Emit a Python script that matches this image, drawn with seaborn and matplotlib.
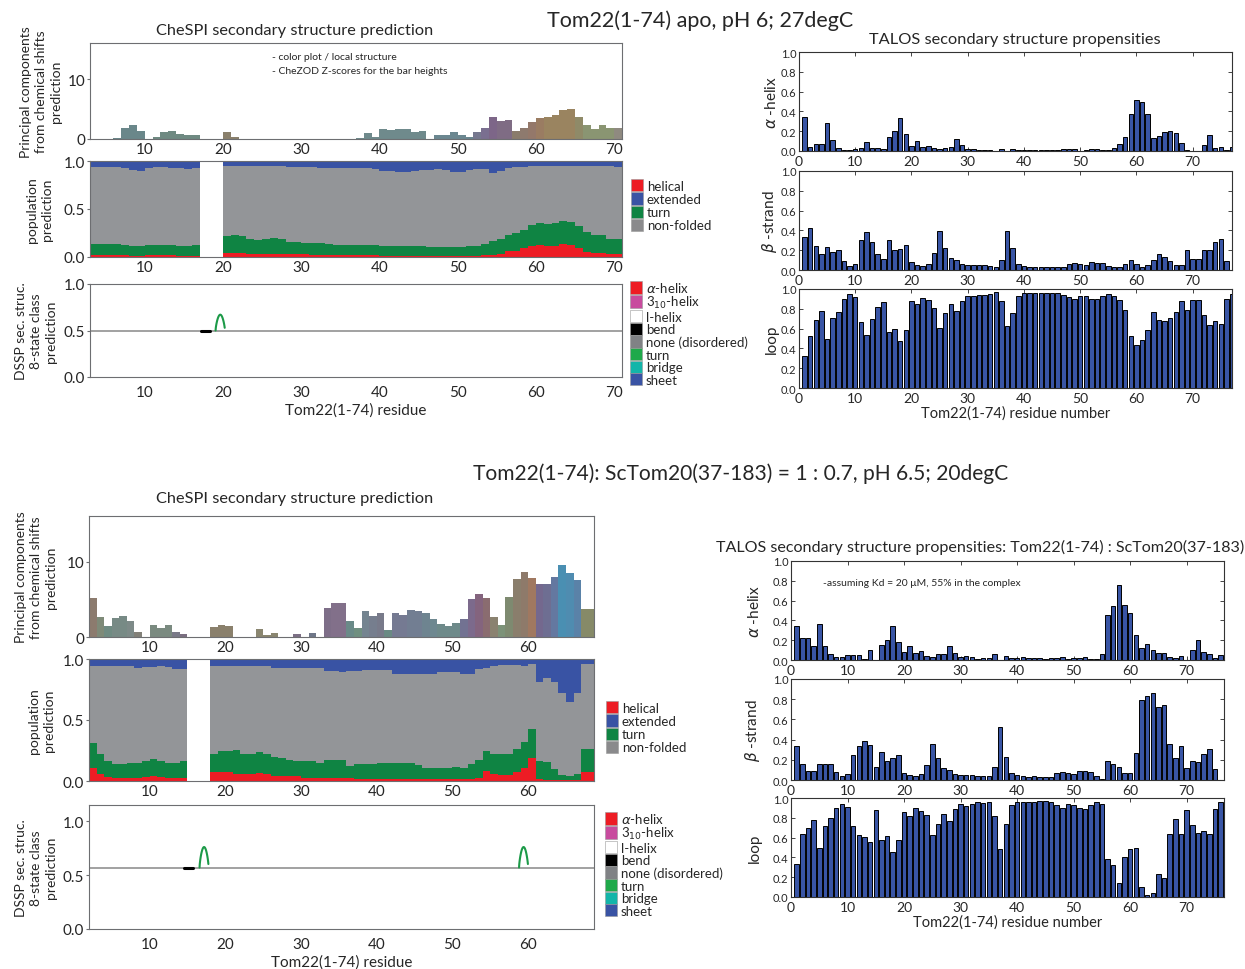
import numpy as np
import pandas as pd
import matplotlib
matplotlib.use("Agg")
import matplotlib.pyplot as plt
from matplotlib.patches import Patch
import seaborn as sns

sns.set_style("ticks")
plt.rcParams['font.family'] = ['Lato', 'DejaVu Sans']
plt.rcParams['mathtext.fontset'] = 'dejavusans'

# ---------------- data: apo (top block) ----------------
apo_pc_res = list(range(3, 71))
apo_pc_z = [0, 0, 0, 0.1, 1.8, 2.4, 1.4, 0, 0.3, 1.1, 1.3, 0.85, 0.7, 0.7,
            0, 0, 0, 1.1, 0.3,
            0, 0, 0, 0, 0, 0, 0, 0, 0, 0, 0, 0, 0, 0, 0,
            0.1, 1.0, 0.35, 1.6, 1.5, 1.7, 1.6, 1.25, 1.3, 0,
            0.75, 0.75, 1.25, 0.7, 0.4, 1.2, 1.9,
            3.7, 3.05, 3.15, 1.3, 1.8, 2.8, 3.45, 3.7, 4.0, 4.9, 5.0, 3.6, 2.4, 1.75, 2.3, 1.9, 1.8]
apo_pc_colors = (['#6a878a'] * 7 + ['#6f8a82'] * 7 + ['#8a806c'] * 20 + ['#6f8a8c'] * 10
                 + ['#6b8790'] * 5 + ['#76788f', '#7a6f90', '#7d6688', '#7f6c84', '#7f6c84',
                                      '#8a7c6c', '#8e7a6e', '#94786a', '#9a7c62']
                 + ['#9a8460'] * 4 + ['#8f8a68'] + ['#8a9572'] * 4 + ['#8f8a80'])

apo_pop_res = list(range(3, 17)) + list(range(20, 71))
apo_helix = [.02, .02, .02, .02, .02, .015, .015, .02, .02, .02, .02, .015, .015, .015,
             .045, .045, .04, .035, .035, .035, .035, .03, .03, .03,
             .03, .025, .025, .025, .02, .02, .02, .02, .02, .02,
             .015, .015, .015, .015, .015, .015, .015, .015, .015, .015,
             .015, .015, .015, .02, .025, .035, .06, .065, .09, .11,
             .13, .11, .115, .135, .12, .09, .055, .045, .04, .035,
             .035]
apo_turn = [.12, .12, .12, .115, .11, .10, .095, .105, .11, .11, .10, .10, .10, .11,
            .175, .18, .18, .15, .145, .155, .16, .155, .13, .125,
            .12, .125, .12, .115, .11, .11, .11, .11, .105, .10,
            .10, .095, .095, .095, .095, .095, .09, .09, .09, .09,
            .09, .095, .10, .12, .145, .155, .17, .185, .19, .22,
            .225, .23, .235, .235, .24, .23, .205, .185, .19, .155,
            .15]
apo_ext = [.065, .065, .065, .065, .07, .09, .1, .07, .065, .065, .07, .075, .08, .075,
           .05, .05, .05, .05, .055, .055, .055, .055, .06, .06,
           .065, .065, .07, .07, .07, .07, .075, .075, .075, .08,
           .1, .1, .11, .11, .1, .09, .09, .085, .09, .11,
           .11, .09, .085, .08, .12, .1, .075, .065, .06, .055,
           .05, .05, .05, .05, .05, .05, .055, .055, .055, .055,
           .06]

apo_dssp_base = 0.5
apo_dssp_bend = [(17.2, 18.3)]
apo_dssp_turn = [19.65]

apo_alpha = [0.34, 0.045, 0.07, 0.07, 0.28, 0.11, 0.035, 0.015, 0.01, 0.025,
             0.03, 0.09, 0.035, 0.03, 0.02, 0.14, 0.205, 0.33, 0.175, 0.055,
             0.105, 0.045, 0.055, 0.03, 0.02, 0.03, 0.04, 0.12, 0.06, 0.025,
             0.025, 0.015, 0.01, 0.01, 0.0, 0.025, 0.0, 0.02, 0.01, 0.01,
             0.015, 0.015, 0.015, 0.015, 0.01, 0.015, 0.02, 0.025, 0.025, 0.0,
             0.015, 0.02, 0.025, 0.01, 0.015, 0.035, 0.07, 0.14, 0.375, 0.52,
             0.49, 0.37, 0.13, 0.15, 0.195, 0.205, 0.185, 0.08, 0.01, 0.005,
             0.0, 0.06, 0.165, 0.035, 0.045, 0.015, 0.04]
apo_beta = [0.335, 0.42, 0.245, 0.16, 0.235, 0.18, 0.205, 0.09, 0.045, 0.065,
            0.30, 0.38, 0.28, 0.16, 0.115, 0.305, 0.2, 0.215, 0.255, 0.08,
            0.05, 0.045, 0.065, 0.17, 0.39, 0.225, 0.12, 0.10, 0.06, 0.05,
            0.05, 0.05, 0.05, 0.045, 0.03, 0.1, 0.39, 0.225, 0.065, 0.04,
            0.03, 0.03, 0.03, 0.03, 0.03, 0.03, 0.035, 0.06, 0.07, 0.065,
            0.055, 0.08, 0.075, 0.075, 0.045, 0.035, 0.035, 0.065, 0.10, 0.065,
            0.03, 0.05, 0.10, 0.16, 0.13, 0.095, 0.05, 0.05, 0.205, 0.115,
            0.115, 0.205, 0.205, 0.285, 0.315, 0.09, 0.0]
apo_loop = [0.325, 0.53, 0.69, 0.78, 0.50, 0.71, 0.77, 0.895, 0.95, 0.915,
            0.67, 0.54, 0.695, 0.82, 0.865, 0.57, 0.60, 0.47, 0.59, 0.875,
            0.845, 0.91, 0.885, 0.805, 0.605, 0.755, 0.85, 0.78, 0.88, 0.925,
            0.925, 0.94, 0.94, 0.95, 0.97, 0.875, 0.625, 0.76, 0.93, 0.96,
            0.96, 0.96, 0.96, 0.96, 0.96, 0.96, 0.935, 0.915, 0.90, 0.93,
            0.93, 0.90, 0.90, 0.925, 0.945, 0.93, 0.89, 0.79, 0.525, 0.43,
            0.485, 0.59, 0.77, 0.69, 0.68, 0.71, 0.765, 0.875, 0.79, 0.885,
            0.885, 0.74, 0.635, 0.68, 0.65, 0.895, 0.95]
apo_talos_res = list(range(1, 78))

# ---------------- data: complex (bottom block) ----------------
cplx_pc_res = list(range(2, 69))
cplx_pc_z = [5.2, 2.65, 1.45, 2.5, 2.8, 2.15, 0.6, 0, 1.6, 1.2, 1.65, 0.7, 0.45, 0.05,
             0, 0, 1.3, 1.6, 1.45, 0.05, 0.05, 0, 1.1, 0.3, 0.5, 0.05, 0.05, 0.35, 0.05,
             0.55, 0.05, 3.8, 4.5, 4.5, 2.1, 1.2, 3.5, 2.85, 3.15, 0.9, 3.2, 2.9, 3.6,
             3.5, 3.15, 2.4, 1.7, 1.5, 1.85, 2.45, 5.05, 5.75, 5.15, 2.6, 1.6, 5.3, 7.7,
             8.6, 7.9, 7.0, 7.05, 8.0, 9.55, 8.55, 7.6, 3.75, 3.75]
cplx_pc_colors = ['#8c7b6e', '#7e8a78', '#6f8b82', '#778a85', '#778a85', '#7d8a88', '#828078',
                  '#828078', '#7a8a80', '#7a8a80', '#7a8a80', '#7a7a88', '#7a6e80', '#7a6e80',
                  '#8a806c', '#8a806c', '#8a806c', '#8a806c', '#8a806c', '#8a806c', '#8a806c',
                  '#8a806c', '#8a8670', '#8a8670', '#8a8670', '#7a7080', '#7a7080', '#7c7085',
                  '#70748a', '#6e7688', '#6e7688', '#7e6e88', '#82708a', '#82708a', '#6a8a88',
                  '#6f8f80', '#748490', '#767e8e', '#787a8a', '#6a8a84', '#757a92', '#757a92',
                  '#727e92', '#727e92', '#6e8490', '#6e8890', '#6e8a8a', '#6e8a8a', '#6e8a8a',
                  '#727292', '#7c6a8c', '#84647e', '#8a6c70', '#8a8270', '#7c9278', '#7e8a70',
                  '#8a7e6c', '#8e7a6a', '#a07860', '#74688e', '#6e6e92', '#6478a0', '#4a8fb2',
                  '#4f8cb0', '#5a82a8', '#868a68', '#868a68']

cplx_pop_res = list(range(2, 15)) + list(range(18, 69))
cplx_helix = [.105, .055, .035, .025, .025, .025, .025, .033, .04, .035, .027, .027, .027,
              .07, .075, .075, .06, .06, .055, .065, .055, .04, .04,
              .04, .04, .027, .027, .027, .027, .027, .027, .027, .02,
              .02, .02, .02, .02, .02, .02, .02, .015, .015, .015,
              .015, .015, .015, .015, .015, .027, .08, .06, .05, .05,
              .075, .11, .185, .02, .01, .005, .005, .005, .005, .07,
              .07]
cplx_turn = [.205, .165, .125, .115, .115, .125, .125, .127, .14, .13, .123, .123, .138,
             .15, .17, .17, .195, .16, .17, .175, .165, .16, .145,
             .13, .125, .133, .133, .123, .148, .148, .148, .098, .12,
             .12, .12, .13, .13, .13, .125, .125, .115, .095, .095,
             .095, .095, .10, .095, .125, .143, .17, .165, .175, .175,
             .185, .21, .24, .14, .145, .09, .045, .035, .055, .19,
             .19]
cplx_ext = [.055, .06, .06, .06, .06, .06, .07, .065, .065, .06, .065, .08, .08,
            .055, .055, .055, .055, .055, .055, .055, .06, .07, .07,
            .07, .07, .075, .075, .075, .095, .095, .11, .1, .095,
            .09, .09, .09, .09, .12, .12, .12, .125, .125, .12,
            .11, .11, .11, .12, .125, .08, .07, .06, .05, .05,
            .05, .055, .04, .185, .155, .185, .275, .35, .275, .045,
            .045]

cplx_dssp_base = 0.57
cplx_dssp_bend = [(14.5, 15.7)]
cplx_dssp_turn = [17.2, 59.4]

cplx_alpha = [0.34, 0.225, 0.22, 0.145, 0.365, 0.14, 0.065, 0.03, 0.03, 0.05,
              0.05, 0.05, 0.015, 0.105, 0.0, 0.15, 0.2, 0.345, 0.185, 0.08,
              0.145, 0.07, 0.09, 0.04, 0.03, 0.06, 0.06, 0.145, 0.07, 0.035,
              0.045, 0.03, 0.015, 0.02, 0.025, 0.06, 0.0, 0.045, 0.02, 0.02,
              0.03, 0.025, 0.025, 0.025, 0.015, 0.02, 0.025, 0.03, 0.015, 0.02,
              0.02, 0.03, 0.01, 0.015, 0.06, 0.45, 0.545, 0.76, 0.56, 0.47,
              0.25, 0.125, 0.165, 0.105, 0.07, 0.07, 0.03, 0.02, 0.04, 0.0,
              0.105, 0.2, 0.085, 0.065, 0.02, 0.055]
cplx_beta = [0.335, 0.155, 0.09, 0.09, 0.155, 0.155, 0.155, 0.08, 0.04, 0.06,
             0.245, 0.335, 0.385, 0.35, 0.13, 0.28, 0.19, 0.215, 0.25, 0.07,
             0.05, 0.04, 0.055, 0.145, 0.355, 0.215, 0.115, 0.095, 0.055, 0.045,
             0.05, 0.045, 0.04, 0.04, 0.04, 0.13, 0.52, 0.23, 0.07, 0.045,
             0.035, 0.03, 0.035, 0.03, 0.03, 0.03, 0.065, 0.08, 0.065, 0.055,
             0.085, 0.085, 0.08, 0.04, 0.01, 0.19, 0.155, 0.125, 0.065, 0.065,
             0.27, 0.795, 0.83, 0.86, 0.72, 0.745, 0.355, 0.215, 0.335, 0.12,
             0.185, 0.175, 0.26, 0.305, 0.105, 0.0]
cplx_loop = [0.335, 0.635, 0.70, 0.78, 0.50, 0.72, 0.795, 0.90, 0.94, 0.905,
             0.72, 0.63, 0.61, 0.56, 0.875, 0.58, 0.615, 0.455, 0.58, 0.86,
             0.815, 0.895, 0.865, 0.825, 0.625, 0.735, 0.835, 0.77, 0.885, 0.935,
             0.92, 0.94, 0.955, 0.95, 0.955, 0.815, 0.48, 0.735, 0.93, 0.955,
             0.955, 0.96, 0.955, 0.965, 0.965, 0.96, 0.925, 0.90, 0.935, 0.93,
             0.895, 0.885, 0.925, 0.955, 0.935, 0.38, 0.325, 0.14, 0.40, 0.48,
             0.495, 0.10, 0.02, 0.045, 0.23, 0.195, 0.635, 0.785, 0.64, 0.88,
             0.725, 0.645, 0.665, 0.64, 0.885, 0.96]
cplx_talos_res = list(range(1, 77))

# ---------------- styles ----------------
RED = '#ed1c24'
BLUE = '#3953a4'
GREEN = '#0f8443'
GRAY = '#939598'
TALOS_BLUE = '#3955a5'
FRAME = '#6d6e71'

pop_legend = [('helical', RED), ('extended', BLUE), ('turn', GREEN), ('non-folded', '#8a8a8c')]
dssp_legend = [(r'$\alpha$-helix', '#ed1c24'), ('3$_{10}$-helix', '#c84b9e'), ('l-helix', 'white'),
               ('bend', 'black'), ('none (disordered)', '#808285'), ('turn', '#1fa94a'),
               ('bridge', '#13b5a9'), ('sheet', '#3953a4')]

W, H = 1245, 970
fig = plt.figure(figsize=(W / 100, H / 100), dpi=100)


def box(x0, y0, x1, y1):
    return fig.add_axes([x0 / W, 1 - y1 / H, (x1 - x0) / W, (y1 - y0) / H])


def left_style(ax, xlim, xticks):
    ax.set_xlim(*xlim)
    ax.set_xticks(xticks)
    ax.tick_params(axis='x', length=0, labelsize=11, pad=2)
    ax.tick_params(axis='y', length=2, labelsize=11, pad=1.5, color=FRAME)
    for s in ax.spines.values():
        s.set_color(FRAME)
        s.set_linewidth(0.8)
        s.set_visible(True)


def pc_panel(ax, res, z, colors, xlim, xticks, ytop, lab_x):
    ax.bar(res, z, width=1, align='edge', color=colors, linewidth=0)
    left_style(ax, xlim, xticks)
    ax.set_ylim(0, ytop)
    ax.set_yticks([0, 10])
    ax.set_ylabel('Principal components\nfrom chemical shifts\nprediction', fontsize=10, linespacing=1.3)
    ax.yaxis.set_label_coords(lab_x, 0.5)


def pop_panel(ax, res, helix, turn, ext, xlim, xticks, lab_x, leg_xy):
    df = pd.DataFrame({'res': res, 'helix': helix, 'turn': turn, 'ext': ext})
    df['ht'] = df['helix'] + df['turn']
    df['nf'] = 1 - df['ext'] - df['ht']
    ax.bar(df['res'], df['helix'], width=1, align='edge', color=RED, linewidth=0)
    ax.bar(df['res'], df['turn'], bottom=df['helix'], width=1, align='edge', color=GREEN, linewidth=0)
    ax.bar(df['res'], df['nf'], bottom=df['ht'], width=1, align='edge', color=GRAY, linewidth=0)
    ax.bar(df['res'], df['ext'], bottom=1 - df['ext'], width=1, align='edge', color=BLUE, linewidth=0)
    left_style(ax, xlim, xticks)
    ax.set_ylim(0, 1)
    ax.set_yticks([0, 0.5, 1.0])
    ax.set_yticklabels(['0.0', '0.5', '1.0'])
    ax.set_ylabel('population\nprediction', fontsize=10, linespacing=1.3)
    ax.yaxis.set_label_coords(lab_x, 0.5)
    handles = [Patch(facecolor=c, edgecolor='#999999', linewidth=0.4) for _, c in pop_legend]
    fig.legend(handles, [l for l, _ in pop_legend], loc='upper left',
               bbox_to_anchor=(leg_xy[0] / W, 1 - leg_xy[1] / H), frameon=False, fontsize=9.5,
               handlelength=0.9, handleheight=1.05, labelspacing=0.05, handletextpad=0.3,
               borderpad=0, borderaxespad=0)


def dssp_panel(ax, base, bends, turns, bump_h, xlim, xticks, ytop, lab_x, leg_xy):
    ax.axhline(base, color='#9a9a9a', lw=1.3, zorder=1)
    for a, b in bends:
        ax.plot([a, b], [base, base], color='black', lw=2.2, zorder=2)
    for c in turns:
        xs = np.linspace(c - 0.6, c + 0.6, 40)
        ys = base + bump_h * np.sin(np.pi * (xs - xs[0]) / 1.2) ** 0.7
        ax.plot(xs, ys, color='#1c9a48', lw=1.5, zorder=3)
    left_style(ax, xlim, xticks)
    ax.tick_params(axis='x', pad=6)
    ax.set_ylim(0, ytop)
    ax.set_yticks([0, 0.5, 1.0])
    ax.set_yticklabels(['0.0', '0.5', '1.0'])
    ax.set_ylabel('DSSP sec. struc.\n8-state class\nprediction', fontsize=10, linespacing=1.3)
    ax.yaxis.set_label_coords(lab_x, 0.5)
    ax.set_xlabel('Tom22(1-74) residue', fontsize=11, labelpad=2)
    handles = [Patch(facecolor=c, edgecolor='#999999', linewidth=0.4) for _, c in dssp_legend]
    fig.legend(handles, [l for l, _ in dssp_legend], loc='upper left',
               bbox_to_anchor=(leg_xy[0] / W, 1 - leg_xy[1] / H), frameon=False, fontsize=9.5,
               handlelength=0.9, handleheight=1.05, labelspacing=0.0, handletextpad=0.3,
               borderpad=0, borderaxespad=0)


def talos_panel(ax, res, vals, label, xmax, lab_x, show_xlabel=False):
    sns.barplot(x=res, y=vals, native_scale=True, color=TALOS_BLUE, saturation=1,
                edgecolor='black', linewidth=0.7, width=0.8, errorbar=None, ax=ax)
    ax.set_xlim(0, xmax)
    ax.set_ylim(0, 1)
    ax.set_xticks(range(0, 71, 10))
    ax.set_yticks(np.arange(0, 1.01, 0.2))
    ax.set_yticklabels(['0.0', '0.2', '0.4', '0.6', '0.8', '1.0'])
    ax.tick_params(direction='in', top=True, right=True, length=3, width=0.6)
    ax.tick_params(axis='y', labelsize=8, pad=2)
    ax.tick_params(axis='x', labelsize=10, pad=3)
    for s in ax.spines.values():
        s.set_color('#333333')
        s.set_linewidth(0.8)
        s.set_visible(True)
    ax.set_ylabel(label, fontsize=11)
    ax.yaxis.set_label_coords(lab_x, 0.5)
    if show_xlabel:
        ax.set_xlabel('Tom22(1-74) residue number', fontsize=10.5, labelpad=1)
    else:
        ax.set_xlabel('')


# ---------------- top block: apo ----------------
ax = box(90, 44, 622, 140)
pc_panel(ax, apo_pc_res, apo_pc_z, apo_pc_colors, (3, 71), range(10, 71, 10), 16, -0.053)
ax.text(0.343, 0.86, '- color plot / local structure', transform=ax.transAxes, fontsize=7.5, va='center')
ax.text(0.343, 0.715, '- CheZOD Z-scores for the bar heights', transform=ax.transAxes, fontsize=7.5, va='center')

ax = box(90, 162, 622, 258)
pop_panel(ax, apo_pop_res, apo_helix, apo_turn, apo_ext, (3, 71), range(10, 71, 10), -0.07, (631, 180))

ax = box(90, 285, 622, 378)
dssp_panel(ax, apo_dssp_base, apo_dssp_bend, apo_dssp_turn, 0.17, (3, 71), range(10, 71, 10), 1.0,
           -0.062, (630, 281))

ax = box(799, 53, 1232, 152)
talos_panel(ax, apo_talos_res, apo_alpha, r'$\alpha$ -helix', 77, -0.047)
ax = box(799, 172, 1232, 271)
talos_panel(ax, apo_talos_res, apo_beta, r'$\beta$ -strand', 77, -0.047)
ax = box(799, 290, 1232, 389)
talos_panel(ax, apo_talos_res, apo_loop, 'loop', 77, -0.047, show_xlabel=True)

fig.text(295 / W, 1 - 31 / H, 'CheSPI secondary structure prediction', fontsize=11.8, ha='center', va='center')
fig.text(700 / W, 1 - 21 / H, 'Tom22(1-74) apo, pH 6; 27degC', fontsize=15.5, ha='center', va='center')
fig.text(1015 / W, 1 - 40 / H, 'TALOS secondary structure propensities', fontsize=11.8, ha='center', va='center')

# ---------------- bottom block: complex ----------------
ax = box(89, 517, 594, 638)
pc_panel(ax, cplx_pc_res, cplx_pc_z, cplx_pc_colors, (2, 68.7), range(10, 61, 10), 16.1, -0.064)

ax = box(89, 660, 594, 782)
pop_panel(ax, cplx_pop_res, cplx_helix, cplx_turn, cplx_ext, (2, 68.7), range(10, 61, 10), -0.068, (606, 702))

ax = box(89, 806, 594, 930)
dssp_panel(ax, cplx_dssp_base, cplx_dssp_bend, cplx_dssp_turn, 0.19, (2, 68.7), range(10, 61, 10), 1.15,
           -0.064, (605, 812))

ax = box(791, 562, 1224, 661)
talos_panel(ax, cplx_talos_res, cplx_alpha, r'$\alpha$ -helix', 76.6, -0.068)
ax.text(0.075, 0.78, '-assuming Kd = 20 \u03bcM, 55% in the complex', transform=ax.transAxes,
        fontsize=7.5, va='center')
ax = box(791, 680, 1224, 781)
talos_panel(ax, cplx_talos_res, cplx_beta, r'$\beta$ -strand', 76.6, -0.068)
ax = box(791, 799, 1224, 898)
talos_panel(ax, cplx_talos_res, cplx_loop, 'loop', 76.6, -0.068, show_xlabel=True)

fig.text(295 / W, 1 - 499 / H, 'CheSPI secondary structure prediction', fontsize=11.8, ha='center', va='center')
fig.text(741 / W, 1 - 474 / H, 'Tom22(1-74): ScTom20(37-183) = 1 : 0.7, pH 6.5; 20degC', fontsize=15.1,
         ha='center', va='center')
fig.text(980 / W, 1 - 547 / H, 'TALOS secondary structure propensities: Tom22(1-74) : ScTom20(37-183)',
         fontsize=11.6, ha='center', va='center')

fig.savefig('out.png', dpi=100)
